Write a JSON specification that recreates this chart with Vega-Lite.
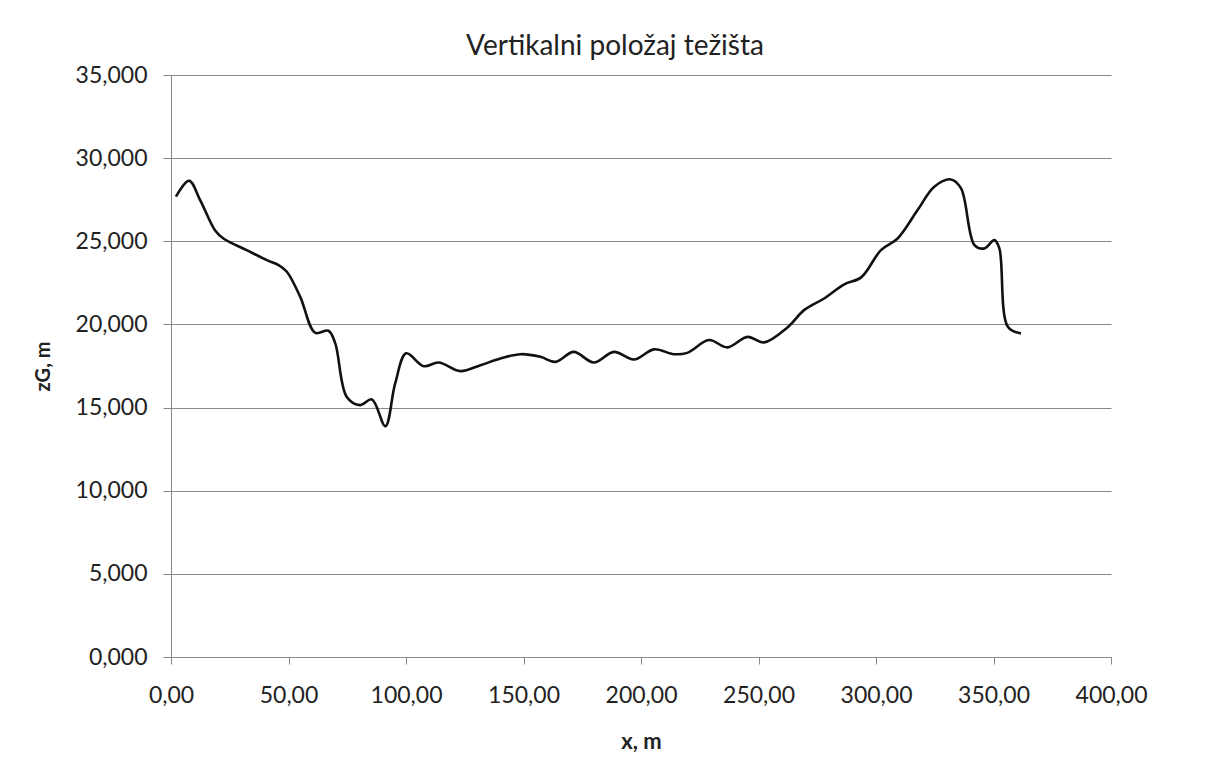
{
  "$schema": "https://vega.github.io/schema/vega-lite/v6.json",
  "width": 940,
  "height": 582,
  "autosize": {"type": "none"},
  "padding": {"left": 171, "top": 75, "right": 104, "bottom": 116},
  "background": "white",
  "config": {
    "locale": {"number": {"decimal": ",", "thousands": ".", "grouping": [3], "currency": ["", ""]}},
    "font": "Lato",
    "view": {"stroke": null}
  },
  "title": {"text": "Vertikalni položaj težišta", "fontSize": 28, "fontWeight": "normal", "color": "#222", "font": "Lato", "anchor": "middle", "dx": -26, "offset": 3},
  "data": {"values": [
    {"x": 2.1, "z": 27.68}, {"x": 7.7, "z": 28.64}, {"x": 12.4, "z": 27.48}, {"x": 18.7, "z": 25.67},
    {"x": 22.3, "z": 25.17}, {"x": 32.2, "z": 24.47}, {"x": 40.8, "z": 23.87}, {"x": 45.8, "z": 23.57},
    {"x": 49.3, "z": 23.17}, {"x": 55.0, "z": 21.66}, {"x": 61.3, "z": 19.50}, {"x": 67.0, "z": 19.62},
    {"x": 69.9, "z": 18.86}, {"x": 74.8, "z": 15.64}, {"x": 80.5, "z": 15.15}, {"x": 85.5, "z": 15.49},
    {"x": 91.2, "z": 13.88}, {"x": 95.4, "z": 16.45}, {"x": 100.1, "z": 18.26}, {"x": 107.5, "z": 17.49},
    {"x": 113.9, "z": 17.71}, {"x": 123.1, "z": 17.19}, {"x": 131.7, "z": 17.55}, {"x": 140.2, "z": 17.95},
    {"x": 148.7, "z": 18.21}, {"x": 157.2, "z": 18.05}, {"x": 163.6, "z": 17.75}, {"x": 171.4, "z": 18.35},
    {"x": 179.9, "z": 17.71}, {"x": 188.5, "z": 18.35}, {"x": 197.0, "z": 17.89}, {"x": 205.5, "z": 18.50},
    {"x": 214.0, "z": 18.21}, {"x": 219.7, "z": 18.29}, {"x": 228.9, "z": 19.06}, {"x": 236.8, "z": 18.62},
    {"x": 245.3, "z": 19.25}, {"x": 252.4, "z": 18.92}, {"x": 262.3, "z": 19.82}, {"x": 269.4, "z": 20.86},
    {"x": 277.9, "z": 21.56}, {"x": 286.5, "z": 22.41}, {"x": 293.7, "z": 22.83}, {"x": 302.1, "z": 24.47},
    {"x": 309.2, "z": 25.17}, {"x": 317.7, "z": 26.88}, {"x": 324.8, "z": 28.28}, {"x": 331.9, "z": 28.72},
    {"x": 336.2, "z": 28.18}, {"x": 341.9, "z": 24.77}, {"x": 346.1, "z": 24.57}, {"x": 350.4, "z": 25.07},
    {"x": 352.5, "z": 24.57}, {"x": 356.1, "z": 19.86}, {"x": 361.7, "z": 19.46}
  ]},
  "mark": {"type": "line", "color": "#111", "strokeWidth": 2.6, "interpolate": "catmull-rom"},
  "encoding": {
    "x": {
      "field": "x", "type": "quantitative",
      "scale": {"domain": [0, 400], "nice": false, "zero": false},
      "axis": {
        "title": "x, m", "format": ".2f", "values": [0, 50, 100, 150, 200, 250, 300, 350, 400],
        "grid": false, "domainColor": "#888", "tickColor": "#888", "tickSize": 7,
        "labelFlush": false, "labelOverlap": false,
        "labelFontSize": 23, "labelColor": "#222", "labelPadding": 20, "labelFont": "Lato",
        "titleFontSize": 22, "titleFontWeight": "bold", "titleColor": "#222", "titlePadding": 24, "titleFont": "Lato"
      }
    },
    "y": {
      "field": "z", "type": "quantitative",
      "scale": {"domain": [0, 35], "nice": false},
      "axis": {
        "title": "zG, m", "format": ".3f", "values": [0, 5, 10, 15, 20, 25, 30, 35],
        "grid": true, "gridColor": "#888", "gridWidth": 1,
        "domainColor": "#888", "tickColor": "#888", "tickSize": 8,
        "labelFlush": false, "labelOverlap": false,
        "labelFontSize": 23, "labelColor": "#222", "labelPadding": 16, "labelFont": "Lato",
        "titleFontSize": 20, "titleFontWeight": "bold", "titleColor": "#222", "titlePadding": 22, "titleFont": "Lato"
      }
    }
  }
}
